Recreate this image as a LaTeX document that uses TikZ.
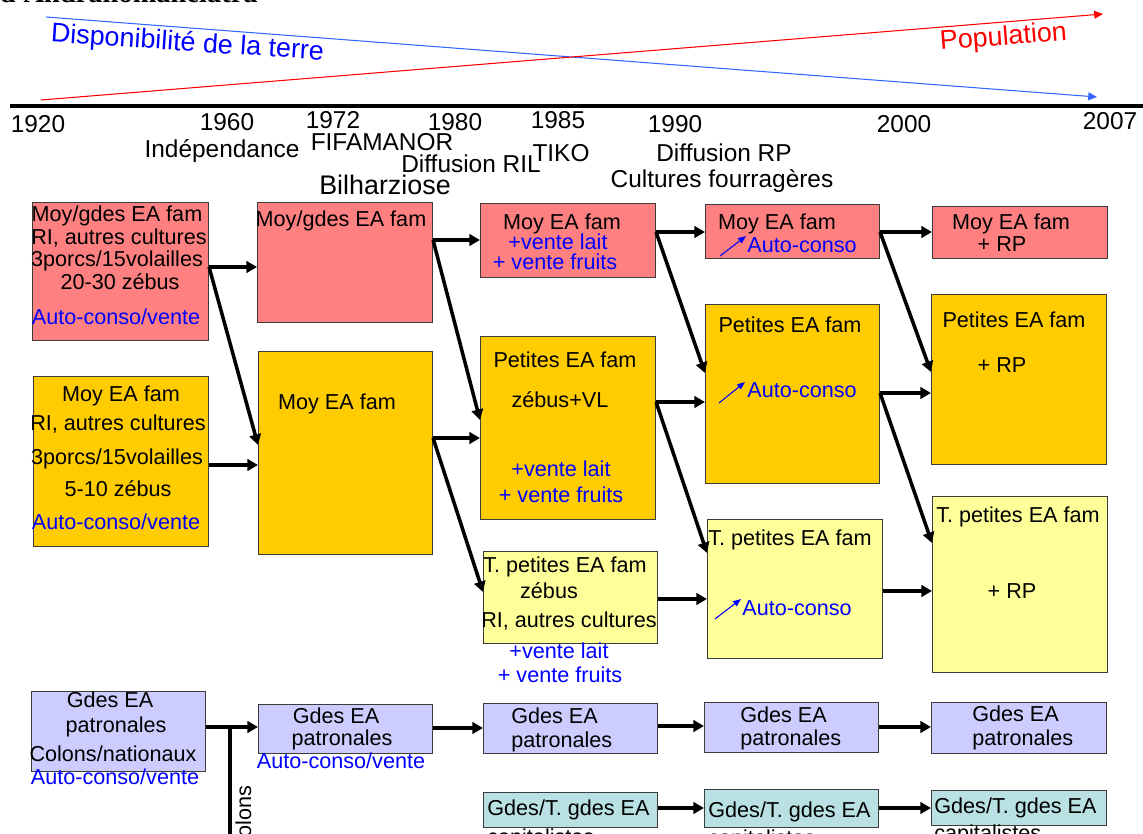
\documentclass[tikz,border=0pt]{standalone}
\usepackage{fontspec}
\setmainfont{Liberation Sans}
\newfontfamily\titlefont{Liberation Serif}
\usetikzlibrary{arrows.meta}

\definecolor{boxpink}{RGB}{255,128,128}
\definecolor{boxorange}{RGB}{255,204,0}
\definecolor{boxyellow}{RGB}{255,255,153}
\definecolor{boxlav}{RGB}{204,204,255}
\definecolor{boxteal}{RGB}{185,224,226}
\definecolor{txtblue}{RGB}{0,0,255}
\definecolor{lineblue}{RGB}{51,102,255}
\definecolor{linered}{RGB}{255,0,0}
\definecolor{edgegray}{RGB}{60,60,60}

% farm-type box: name, fill, x1, y1, x2, y2 (pixel grid, y downwards)
\newcommand\eabox[6]{%
  \node[eabox, fill=#2, minimum width={(#5-#3)*0.02cm},
        minimum height={(#6-#4)*0.02cm}] (#1) at (#3,#4) {};}
% text line: name, style, x, baseline y, text
\newcommand\lab[5]{\node[#2] (#1) at (#3,#4) {#5};}

\begin{document}
\begin{tikzpicture}[x=0.02cm, y=-0.02cm,
  eabox/.style={draw=edgegray, line width=0.6pt, anchor=north west, inner sep=0pt},
  txt/.style={inner sep=0pt, anchor=base, font=\fontsize{12.3pt}{14pt}\selectfont},
  btxt/.style={txt, text=txtblue},
  ltxt/.style={txt, anchor=base west},
  yr/.style={inner sep=0pt, anchor=base, font=\fontsize{13.9pt}{16pt}\selectfont},
  arr/.style={line width=2pt, -{Triangle[length=6pt,width=6.5pt]}},
  sarr/.style={draw=txtblue, line width=0.6pt, -{Triangle[length=4.5pt,width=3.5pt]}},
  trend/.style={line width=0.6pt, -{Triangle[length=5pt,width=4.5pt]}}]

\useasboundingbox (0,0) rectangle (1143,834);
\clip (0,0) rectangle (1143,834);

% title (only its lower edge falls in the frame)
\node[anchor=base east, inner sep=0pt,
      font=\titlefont\bfseries\fontsize{16.2pt}{18pt}\selectfont] (title) at (258,3) {d'Andranomanelatra};

% trends
\coordinate (bS) at (46,17);   \coordinate (bE) at (1097,97);
\coordinate (rS) at (41,100);  \coordinate (rE) at (1103,14);
\draw[trend, lineblue] (bS) -- (bE);
\draw[trend, linered] (rS) -- (rE);
\node[inner sep=0pt, anchor=base, rotate=-3.8, text=txtblue,
      font=\fontsize{15.3pt}{18pt}\selectfont] (dispo) at (187,51) {Disponibilité de la terre};
\node[inner sep=0pt, anchor=base, rotate=4.5, text=linered,
      font=\fontsize{15.3pt}{18pt}\selectfont] (popu) at (1004,45) {Population};

% time axis
\coordinate (tA) at (10,106); \coordinate (tB) at (1143,106);
\draw[line width=2.3pt] (tA) -- (tB);
\lab{y1920}{yr}{38}{133}{1920}
\lab{y1960}{yr}{227}{131}{1960}
\lab{y1972}{yr}{333}{129}{1972}
\lab{ev1}{yr}{222}{158}{Indépendance}
\lab{ev2}{yr}{382}{151}{FIFAMANOR}
\node[inner sep=0pt, anchor=base, font=\fontsize{15.3pt}{18pt}\selectfont] (ev3) at (385,195) {Bilharziose};
\lab{y1980}{yr}{455}{131}{1980}
\lab{ev4}{yr}{471}{173}{Diffusion RIL}
\lab{y1985}{yr}{558}{129}{1985}
\lab{ev5}{yr}{561}{162}{TIKO}
\lab{y1990}{yr}{675}{133}{1990}
\lab{ev6}{yr}{724}{162}{Diffusion RP}
\lab{ev7}{yr}{722}{188}{Cultures fourragères}
\lab{y2000}{yr}{904}{133}{2000}
\lab{y2007}{yr}{1110}{130}{2007}

% boxes
\eabox{A1}{boxpink}{32}{202}{208}{340}
\eabox{A2}{boxorange}{33}{376}{208}{546}
\eabox{B1}{boxpink}{257}{202}{432}{322}
\eabox{B2}{boxorange}{258}{351}{432}{554}
\eabox{C1}{boxpink}{480}{203}{655}{277}
\eabox{C2}{boxorange}{480}{336}{655}{519}
\eabox{C3}{boxyellow}{483}{551}{657}{643}
\eabox{D1}{boxpink}{705}{204}{879}{258}
\eabox{D2}{boxorange}{705}{304}{879}{483}
\eabox{D3}{boxyellow}{707}{519}{882}{658}
\eabox{E1}{boxpink}{932}{206}{1107}{258}
\eabox{E2}{boxorange}{931}{294}{1106}{464}
\eabox{E3}{boxyellow}{932}{496}{1107}{672}
\eabox{F1}{boxlav}{31}{691}{205}{771}
\eabox{G1}{boxlav}{258}{704}{432}{753}
\eabox{H1}{boxlav}{483}{703}{657}{753}
\eabox{I1}{boxlav}{704}{702}{878}{752}
\eabox{J1}{boxlav}{931}{702}{1106}{753}
\eabox{K1}{boxteal}{483}{792}{657}{827}
\eabox{K2}{boxteal}{704}{789}{878}{827}
\eabox{K3}{boxteal}{931}{790}{1106}{825}

% box texts
\lab{A1a}{txt}{117}{222}{Moy/gdes EA fam}
\lab{A1b}{txt}{119}{245}{RI, autres cultures}
\lab{A1c}{txt}{117}{267}{3porcs/15volailles}
\lab{A1d}{txt}{120}{290}{20-30 zébus}
\lab{A1e}{btxt}{116}{325}{Auto-conso/vente}

\lab{A2a}{txt}{121}{402}{Moy EA fam}
\lab{A2b}{txt}{118}{431}{RI, autres cultures}
\lab{A2c}{txt}{117}{464}{3porcs/15volailles}
\lab{A2d}{txt}{118}{497}{5-10 zébus}
\lab{A2e}{btxt}{116}{529}{Auto-conso/vente}

\lab{B1a}{txt}{341}{227}{Moy/gdes EA fam}
\lab{B2a}{txt}{337}{410}{Moy EA fam}

\lab{C1a}{txt}{562}{230}{Moy EA fam}
\lab{C1b}{btxt}{558}{250}{+vente lait}
\lab{C1c}{btxt}{555}{270}{+ vente fruits}

\lab{C2a}{txt}{565}{368}{Petites EA fam}
\lab{C2b}{txt}{560}{408}{zébus+VL}
\lab{C2c}{btxt}{561}{477}{+vente lait}
\lab{C2d}{btxt}{561}{502}{+ vente fruits}

\lab{C3a}{txt}{565}{572}{T. petites EA fam}
\lab{C3b}{txt}{549}{598}{zébus}
\lab{C3c}{txt}{569}{627}{RI, autres cultures}
\lab{C3d}{btxt}{559}{658}{+vente lait}
\lab{C3e}{btxt}{560}{682}{+ vente fruits}

\lab{D1a}{txt}{777}{230}{Moy EA fam}
\lab{D1b}{btxt, anchor=base west}{747}{253}{Auto-conso}
\lab{D2a}{txt}{790}{333}{Petites EA fam}
\lab{D2b}{btxt, anchor=base west}{747}{398}{Auto-conso}
\lab{D3a}{txt}{790}{545}{T. petites EA fam}
\lab{D3b}{btxt, anchor=base west}{742}{615}{Auto-conso}

\coordinate (up1s) at (720,256); \coordinate (up1e) at (746,236);
\coordinate (up2s) at (719,403); \coordinate (up2e) at (745,382);
\coordinate (up3s) at (715,619); \coordinate (up3e) at (741,599);
\draw[sarr] (up1s) -- (up1e);
\draw[sarr] (up2s) -- (up2e);
\draw[sarr] (up3s) -- (up3e);

\lab{E1a}{txt}{1011}{230}{Moy EA fam}
\lab{E1b}{txt}{1002}{252}{+ RP}
\lab{E2a}{txt}{1014}{328}{Petites EA fam}
\lab{E2b}{txt}{1002}{373}{+ RP}
\lab{E3a}{txt}{1018}{522}{T. petites EA fam}
\lab{E3b}{txt}{1012}{598}{+ RP}

\lab{F1a}{txt}{110}{707}{Gdes EA}
\lab{F1b}{txt}{116}{732}{patronales}
\lab{F1c}{txt}{113}{761}{Colons/nationaux}
\lab{F1d}{btxt}{115}{784}{Auto-conso/vente}

\lab{G1a}{txt}{336}{723}{Gdes EA}
\lab{G1b}{txt}{342}{745}{patronales}
\lab{G1c}{btxt}{341}{768}{Auto-conso/vente}

\lab{H1a}{ltxt}{511}{723}{Gdes EA}
\lab{H1b}{ltxt}{511}{747}{patronales}
\lab{I1a}{ltxt}{740}{722}{Gdes EA}
\lab{I1b}{ltxt}{740}{745}{patronales}
\lab{J1a}{ltxt}{972}{721}{Gdes EA}
\lab{J1b}{ltxt}{972}{745}{patronales}

\lab{K1a}{ltxt}{487}{815}{Gdes/T. gdes EA}
\lab{K1b}{ltxt}{487}{844}{capitalistes}
\lab{K2a}{ltxt}{708}{817}{Gdes/T. gdes EA}
\lab{K2b}{ltxt}{708}{845}{capitalistes}
\lab{K3a}{ltxt}{934}{813}{Gdes/T. gdes EA}
\lab{K3b}{ltxt}{934}{840}{capitalistes}

% transitions
\draw[arr] (A1.east |- 0,267) -- (B1.west |- 0,267);
\draw[arr] (A1.east |- 0,267) -- (B2.west |- 0,445);
\draw[arr] (A2.east |- 0,465) -- (B2.west |- 0,465);

\draw[arr] (B1.east |- 0,240) -- (C1.west |- 0,240);
\draw[arr] (B1.east |- 0,240) -- (C2.west |- 0,420);
\draw[arr] (B2.east |- 0,438) -- (C2.west |- 0,438);
\draw[arr] (B2.east |- 0,438) -- (C3.west |- 0,592);

\draw[arr] (C1.east |- 0,232) -- (D1.west |- 0,232);
\draw[arr] (C1.east |- 0,232) -- (D2.west |- 0,373);
\draw[arr] (C2.east |- 0,402) -- (D2.west |- 0,402);
\draw[arr] (C2.east |- 0,402) -- (D3.west |- 0,553);
\draw[arr] (C3.east |- 0,599) -- (D3.west |- 0,599);

\draw[arr] (D1.east |- 0,232) -- (E1.west |- 0,232);
\draw[arr] (D1.east |- 0,232) -- (E2.west |- 0,372);
\draw[arr] (D2.east |- 0,393) -- (E2.west |- 0,393);
\draw[arr] (D2.east |- 0,393) -- (E3.west |- 0,543);
\draw[arr] (D3.east |- 0,591) -- (E3.west |- 0,591);

\draw[arr] (F1.east |- 0,727) -- (G1.west |- 0,727);
\draw[arr] (G1.east |- 0,728) -- (H1.west |- 0,728);
\draw[arr] (H1.east |- 0,726) -- (I1.west |- 0,726);
\draw[arr] (I1.east |- 0,727) -- (J1.west |- 0,727);

\draw[arr] (K1.east |- 0,808) -- (K2.west |- 0,808);
\draw[arr] (K2.east |- 0,808) -- (K3.west |- 0,808);

% branch towards the settlers
\coordinate (colTop) at (230,727);
\coordinate (colEnd) at (230,840);
\draw[line width=2pt] (colTop) -- (colEnd);
\node[txt, rotate=90, anchor=base east] (colons) at (251,785) {Colons};

\end{tikzpicture}
\end{document}
